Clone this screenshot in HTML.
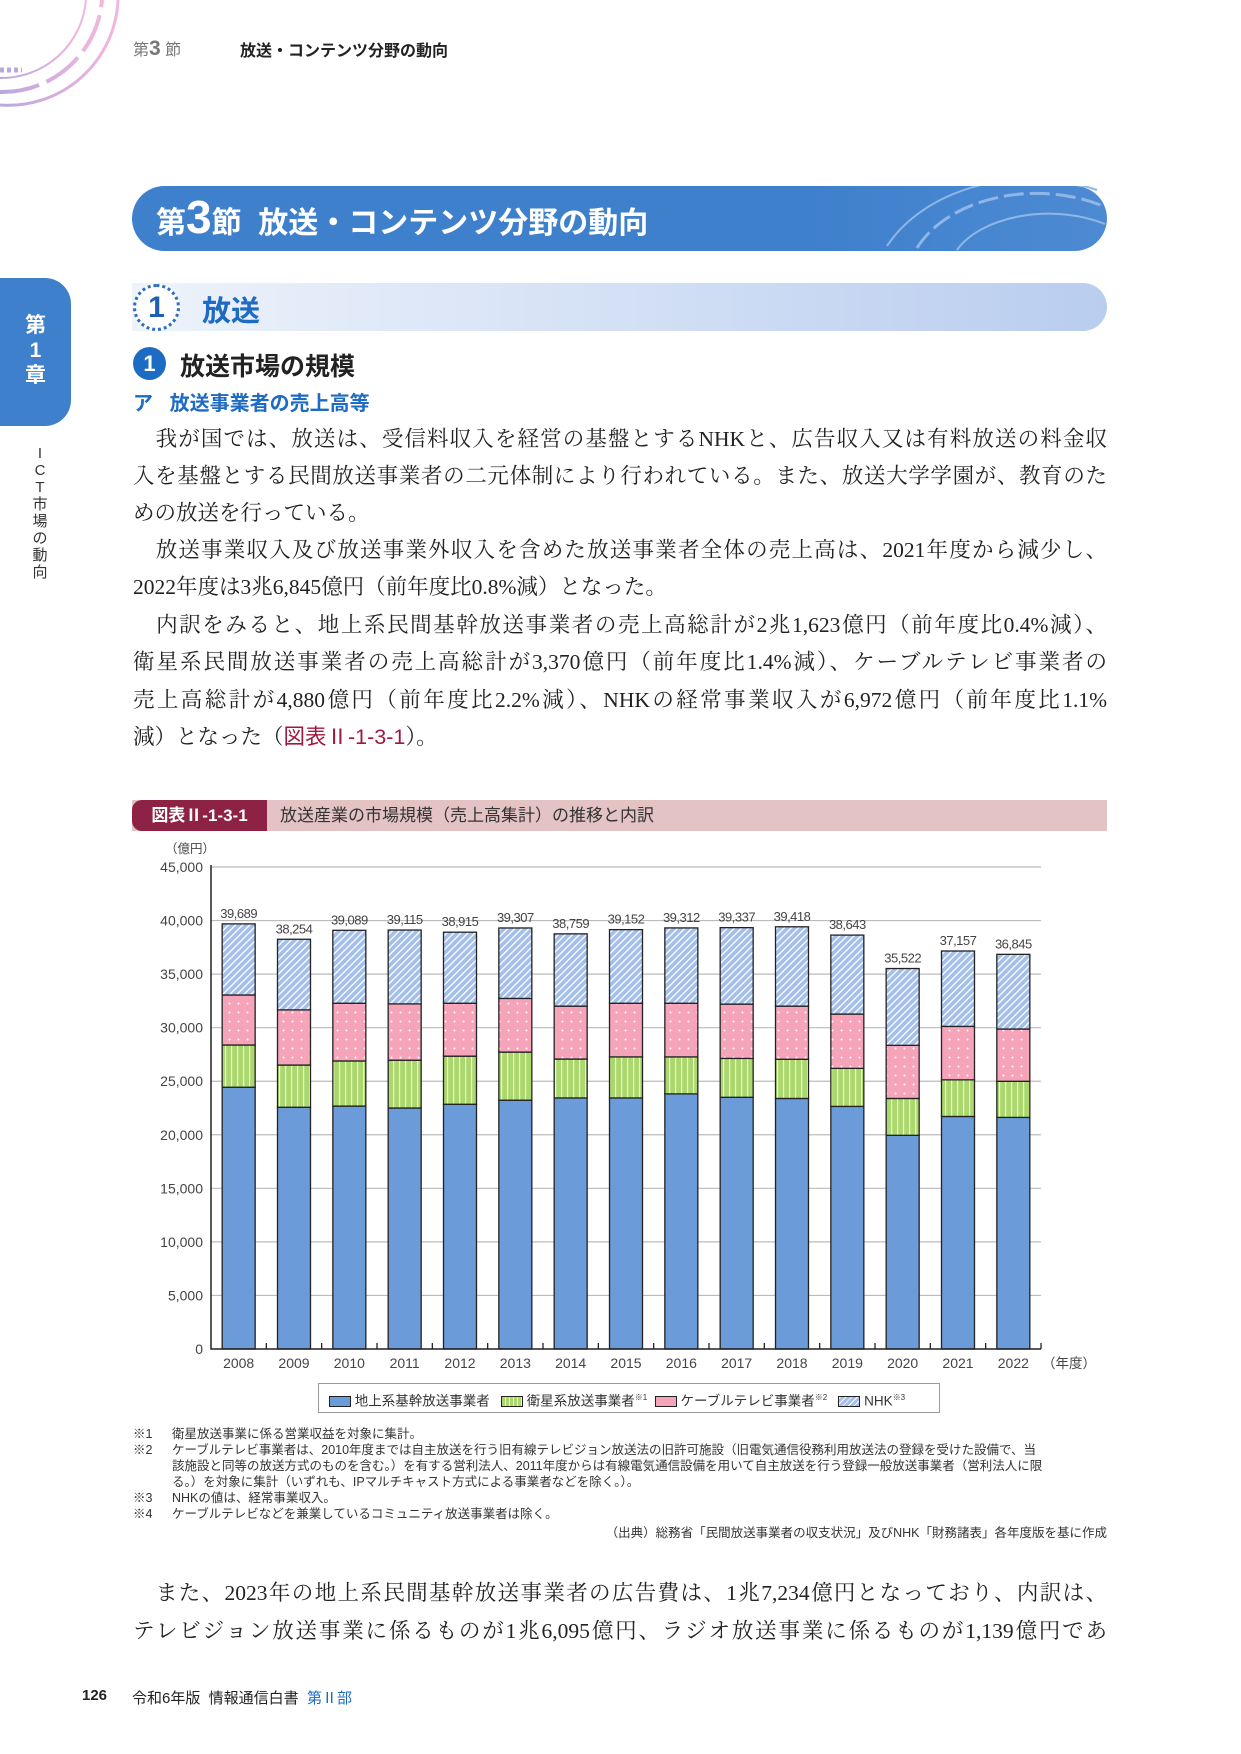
<!DOCTYPE html>
<html lang="ja"><head><meta charset="utf-8">
<style>
*{margin:0;padding:0;box-sizing:border-box}
body{width:1241px;height:1754px;position:relative;background:#fff;font-family:"Liberation Sans","Noto Sans CJK JP",sans-serif;color:#222;overflow:hidden}
.a{position:absolute}
.para{position:absolute;left:133px;width:974px;font-family:"Liberation Serif","Noto Serif CJK JP",serif;font-size:21.5px;line-height:24px;text-align:justify;text-align-last:justify;white-space:nowrap}
.para.nl{text-align-last:left}
.note{position:absolute;left:133px;font-size:12.5px;color:#333;white-space:nowrap}
.note span{display:inline-block;width:39px}
</style></head><body>
<svg class="a" style="left:0;top:0" width="130" height="110">
<defs><linearGradient id="cg" x1="0" x2="1"><stop offset="0" stop-color="#b9a8e0"/><stop offset="1" stop-color="#f3b6dd"/></linearGradient></defs>
<path d="M0 105 A110 110 0 0 0 118 0" fill="none" stroke="url(#cg)" stroke-width="3"/>
<path d="M0 92 A100 100 0 0 0 102 0" fill="none" stroke="url(#cg)" stroke-width="4" stroke-dasharray="40 8"/>
<path d="M0 78 A85 85 0 0 0 86 0" fill="none" stroke="url(#cg)" stroke-width="2"/>
<path d="M0 70 l22 0" stroke="#b9a8e0" stroke-width="5" stroke-dasharray="4 3"/>
</svg>
<div class="a" style="left:133px;top:36px;font-size:16px;color:#777">第<b style="font-size:21px">3</b> 節</div>
<div class="a" style="left:240px;top:37px;font-size:16px;font-weight:bold">放送・コンテンツ分野の動向</div>

<div class="a" style="left:132px;top:186px;width:975px;height:65px;border-radius:33px;background:linear-gradient(90deg,#3f80cc 70%,#4d8ad3);color:#fff;font-weight:bold">
<div class="a" style="left:24px;top:8px;font-size:30px;white-space:nowrap">第<span style="font-size:46px;line-height:46px">3</span>節&nbsp; 放送・コンテンツ分野の動向</div>
<svg class="a" style="right:0;top:0" width="230" height="65"><path d="M10 60 A160 120 0 0 1 220 4" fill="none" stroke="#8fb6e6" stroke-width="2"/><path d="M40 62 A130 90 0 0 1 226 20" fill="none" stroke="#8fb6e6" stroke-width="3" stroke-dasharray="20 6"/><path d="M80 64 A100 60 0 0 1 228 38" fill="none" stroke="#8fb6e6" stroke-width="2"/></svg>
</div>

<div class="a" style="left:0;top:278px;width:71px;height:148px;background:#3f80cc;border-radius:0 26px 26px 0;color:#fff;font-weight:bold;font-size:21px;line-height:25px;text-align:center;padding-top:35px">第<br>1<br>章</div>
<div class="a" style="left:31px;top:445px;width:18px;font-size:15px;line-height:17px;text-align:center;color:#333">I<br>C<br>T<br>市<br>場<br>の<br>動<br>向</div>

<div class="a" style="left:132px;top:283px;width:975px;height:48px;border-radius:0 25px 25px 0;background:linear-gradient(90deg,#eef3fb,#b9cdef)"></div>
<div class="a" style="left:133px;top:284px;width:47px;height:47px;border-radius:50%;border:3px dotted #2b6ec4;background:#fff;color:#1d5fb5;font-size:30px;font-weight:bold;text-align:center;line-height:41px">1</div>
<div class="a" style="left:202px;top:288px;font-size:29px;font-weight:bold;color:#1d6bc2">放送</div>

<div class="a" style="left:133px;top:347px;width:33px;height:33px;border-radius:50%;background:#1d6bc2;color:#fff;font-size:22px;font-weight:bold;text-align:center;line-height:33px">1</div>
<div class="a" style="left:180px;top:347px;font-size:25px;font-weight:bold">放送市場の規模</div>
<div class="a" style="left:133px;top:387px;font-size:20px;font-weight:bold;color:#1d6bc2;white-space:nowrap">ア&nbsp;&nbsp; 放送事業者の売上高等</div>

<div>
<div class="para" style="top:427px">&#12288;我が国では、放送は、受信料収入を経営の基盤とするNHKと、広告収入又は有料放送の料金収</div>
<div class="para" style="top:464px">入を基盤とする民間放送事業者の二元体制により行われている。また、放送大学学園が、教育のた</div>
<div class="para nl" style="top:501px">めの放送を行っている。</div>
<div class="para" style="top:538px">&#12288;放送事業収入及び放送事業外収入を含めた放送事業者全体の売上高は、2021年度から減少し、</div>
<div class="para nl" style="top:575px">2022年度は3兆6,845億円（前年度比0.8%減）となった。</div>
<div class="para" style="top:613px">&#12288;内訳をみると、地上系民間基幹放送事業者の売上高総計が2兆1,623億円（前年度比0.4%減）、</div>
<div class="para" style="top:650px">衛星系民間放送事業者の売上高総計が3,370億円（前年度比1.4%減）、ケーブルテレビ事業者の</div>
<div class="para" style="top:688px">売上高総計が4,880億円（前年度比2.2%減）、NHKの経常事業収入が6,972億円（前年度比1.1%</div>
<div class="para nl" style="top:725px">減）となった（<span style="color:#a0183e;font-family:'Liberation Sans','Noto Sans CJK JP',sans-serif">図表Ⅱ-1-3-1</span>）。</div>
</div>

<div class="a" style="left:132px;top:800px;width:975px;height:31px;background:#e3c3c3">
<div class="a" style="left:0;top:0;width:135px;height:31px;background:#8e2244;border-radius:10px 0 0 10px;color:#fff;font-weight:bold;font-size:17px;line-height:31px;text-align:center">図表Ⅱ-1-3-1</div>
<div class="a" style="left:148px;top:0;font-size:17px;line-height:31px;color:#333">放送産業の市場規模（売上高集計）の推移と内訳</div>
</div>

<svg id="chart" class="a" style="left:0;top:0" width="1241" height="1440">
<defs>
<pattern id="pSat" width="6" height="14" patternUnits="userSpaceOnUse"><rect width="6" height="14" fill="#aad86c"/><rect x="3" width="1.2" height="14" fill="#eef8dc"/></pattern>
<pattern id="pCab" width="9" height="9" patternUnits="userSpaceOnUse"><rect width="9" height="9" fill="#f5a4ba"/><circle cx="4.5" cy="4.5" r="1" fill="#fff"/></pattern>
<pattern id="pNhk" width="5" height="5" patternUnits="userSpaceOnUse" patternTransform="rotate(45)"><rect width="5" height="5" fill="#a3bfea"/><rect width="1.3" height="5" fill="#fff"/></pattern>
</defs>
</svg>

<div class="a" style="left:318px;top:1383px;width:622px;height:30px;border:1.5px solid #999;background:#fff;font-size:13.5px;color:#333;line-height:27px;white-space:nowrap">
<span style="margin-left:10px;display:inline-block;width:22px;height:11px;background:#6b9bd8;border:1px solid #222;vertical-align:-1px"></span> 地上系基幹放送事業者&nbsp;&nbsp;
<span style="display:inline-block;width:22px;height:11px;background:repeating-linear-gradient(90deg,#aad86c 0 3px,#eef8dc 3px 4px);border:1px solid #222;vertical-align:-1px"></span> 衛星系放送事業者<sup style="font-size:8px">※1</sup>&nbsp;
<span style="display:inline-block;width:22px;height:11px;background:#f5a4ba;border:1px solid #222;vertical-align:-1px"></span> ケーブルテレビ事業者<sup style="font-size:8px">※2</sup>&nbsp;&nbsp;
<span style="display:inline-block;width:22px;height:11px;background:repeating-linear-gradient(-45deg,#a3bfea 0 3px,#fff 3px 4px);border:1px solid #222;vertical-align:-1px"></span> NHK<sup style="font-size:8px">※3</sup>
</div>

<div>
<div class="note" style="top:1423px"><span>※1</span>衛星放送事業に係る営業収益を対象に集計。</div>
<div class="note" style="top:1439px"><span>※2</span>ケーブルテレビ事業者は、2010年度までは自主放送を行う旧有線テレビジョン放送法の旧許可施設（旧電気通信役務利用放送法の登録を受けた設備で、当</div>
<div class="note" style="top:1455px"><span></span>該施設と同等の放送方式のものを含む。）を有する営利法人、2011年度からは有線電気通信設備を用いて自主放送を行う登録一般放送事業者（営利法人に限</div>
<div class="note" style="top:1471px"><span></span>る。）を対象に集計（いずれも、IPマルチキャスト方式による事業者などを除く。）。</div>
<div class="note" style="top:1487px"><span>※3</span>NHKの値は、経常事業収入。</div>
<div class="note" style="top:1503px"><span>※4</span>ケーブルテレビなどを兼業しているコミュニティ放送事業者は除く。</div>
<div class="note" style="top:1522px;left:auto;right:134px">（出典）総務省「民間放送事業者の収支状況」及びNHK「財務諸表」各年度版を基に作成</div>
</div>

<div class="para" style="top:1581px">&#12288;また、2023年の地上系民間基幹放送事業者の広告費は、1兆7,234億円となっており、内訳は、</div>
<div class="para" style="top:1619px">テレビジョン放送事業に係るものが1兆6,095億円、ラジオ放送事業に係るものが1,139億円であ</div>

<div class="a" style="left:82px;top:1687px;font-size:15px;font-weight:bold">126</div>
<div class="a" style="left:132px;top:1687px;font-size:15px;white-space:nowrap">令和6年版&nbsp; 情報通信白書&nbsp; <span style="color:#1d6bc2">第Ⅱ部</span></div>

<script>
const years = ['2008','2009','2010','2011','2012','2013','2014','2015','2016','2017','2018','2019','2020','2021','2022'];
const terrestrial = [24440,22570,22680,22500,22850,23230,23440,23440,23820,23500,23390,22650,19950,21710,21623];
const satellite = [3940,3940,4210,4460,4490,4490,3630,3830,3450,3630,3660,3550,3440,3418,3370];
const cable = [4670,5150,5390,5260,4940,5010,4940,5010,5010,5070,4960,5070,4960,4990,4880];
const nhk = [6639,6594,6809,6895,6635,6577,6749,6872,7032,7137,7408,7373,7172,7039,6972];
const totalLabels = ['39,689','38,254','39,089','39,115','38,915','39,307','38,759','39,152','39,312','39,337','39,418','38,643','35,522','37,157','36,845'];
const yTicks = [0,5000,10000,15000,20000,25000,30000,35000,40000,45000];
const yTickLabels = ['0','5,000','10,000','15,000','20,000','25,000','30,000','35,000','40,000','45,000'];

const NS='http://www.w3.org/2000/svg';
const svg=document.getElementById('chart');
const X0=211, X1=1041, Y0=1349, YMAX=45000, YTOP=867;
const band=(X1-X0)/years.length, bw=33;
const y=v=>Y0-(v/YMAX)*(Y0-YTOP);
const xc=i=>X0+band*(i+0.5);
function mk(tag,attrs){const e=document.createElementNS(NS,tag);for(const k in attrs)e.setAttribute(k,attrs[k]);svg.appendChild(e);return e;}

yTicks.forEach((t,i)=>{
  if(t>0){const g=mk('line',{x1:X0,x2:X1,y1:y(t),y2:y(t),stroke:'#bbb','stroke-width':1.2});
  
  }
  const tx=mk('text',{x:X0-8,y:y(t)+5,'text-anchor':'end','font-size':14,fill:'#444','font-family':'Liberation Sans, sans-serif'});
  tx.textContent=yTickLabels[i];
  
  
});
const unit=mk('text',{x:165,y:853,'font-size':12.5,fill:'#444','font-family':'Liberation Sans, Noto Sans CJK JP, sans-serif'});
unit.textContent='（億円）';



const series=[[terrestrial,'#6b9bd8','terrestrial'],[satellite,'url(#pSat)','satellite'],[cable,'url(#pCab)','cable'],[nhk,'url(#pNhk)','nhk']];
years.forEach((yr,i)=>{
  let base=0;
  series.forEach(([arr,fill,nm])=>{
    const v=arr[i];
    const r=mk('rect',{x:xc(i)-bw/2,y:y(base+v),width:bw,height:y(base)-y(base+v),fill:fill,stroke:'#222','stroke-width':1.3});
    
    
    base+=v;
  });
  const lt=mk('text',{x:xc(i),y:y(base)-6,'text-anchor':'middle','font-size':13,fill:'#444','letter-spacing':'-0.5','font-family':'Liberation Sans, sans-serif'});
  lt.textContent=totalLabels[i];
  
  
  const xl=mk('text',{x:xc(i),y:Y0+19,'text-anchor':'middle','font-size':14,fill:'#444','font-family':'Liberation Sans, sans-serif'});
  xl.textContent=yr;
  
  
  const tk=mk('line',{x1:X0+band*(i+1),x2:X0+band*(i+1),y1:Y0,y2:Y0-6,stroke:'#222','stroke-width':1.3});
  
  
});
const ax=mk('path',{d:`M${X0} ${YTOP-2} V${Y0} H${X1}`,fill:'none',stroke:'#222','stroke-width':1.5});


const yu=mk('text',{x:X1+1,y:Y0+19,'font-size':13.5,fill:'#444','font-family':'Liberation Sans, Noto Sans CJK JP, sans-serif'});
yu.textContent='（年度）';


</script>
</body></html>
